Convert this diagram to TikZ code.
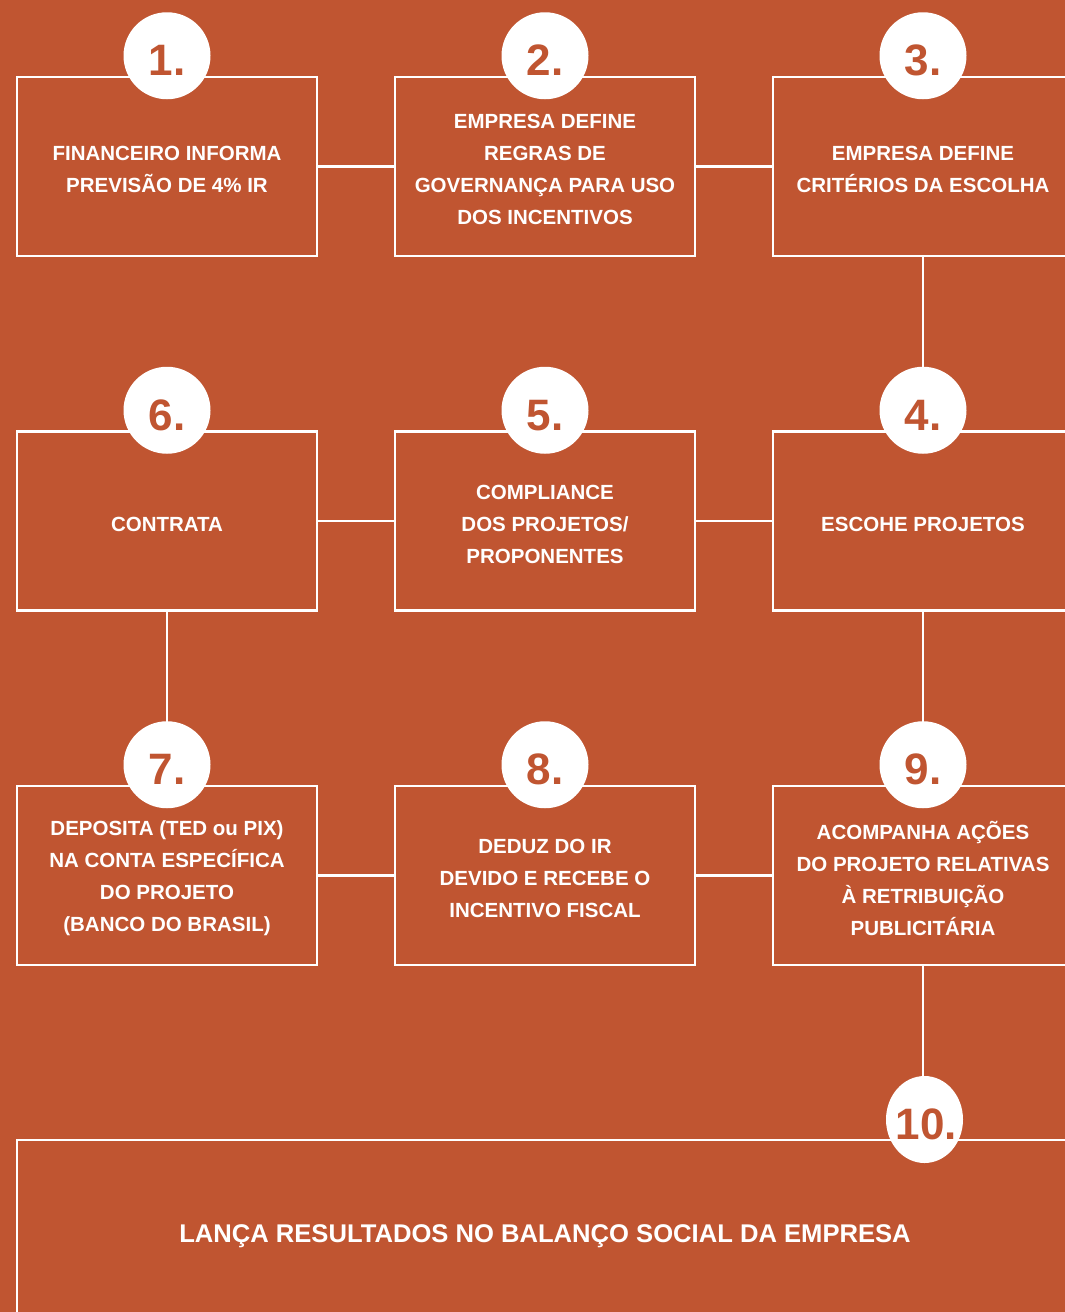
\documentclass[tikz,border=0pt]{standalone}
\usepackage{fontspec}
\setmainfont{Liberation Sans}
\usetikzlibrary{shapes.geometric}
\definecolor{bg}{RGB}{192,85,49}
\begin{document}
\begin{tikzpicture}[x=1pt,y=-1pt,
  stepbox/.style={draw=white, line width=2.5pt, fill=bg, minimum width=300pt, minimum height=179pt, inner sep=0pt},
  txt/.style={text=white, align=center, font=\fontsize{20.5}{32}\selectfont\bfseries, inner sep=0pt},
  num/.style={circle, fill=white, minimum size=87pt, inner sep=0pt, text=bg, text height=39.5pt, text depth=0pt, font=\fontsize{44}{44}\selectfont\bfseries},
  link/.style={draw=white, line width=2.5pt}]
\useasboundingbox (0,0) rectangle (1065,1312);
\clip (0,0) rectangle (1065,1312);
\fill[bg] (0,0) rectangle (1065,1312);
% boxes
\node[stepbox] (b1) at (167,166.5) {};
\node[stepbox] (b2) at (545,166.5) {};
\node[stepbox] (b3) at (923,166.5) {};
\node[stepbox] (b6) at (167,521) {};
\node[stepbox] (b5) at (545,521) {};
\node[stepbox] (b4) at (923,521) {};
\node[stepbox] (b7) at (167,875.5) {};
\node[stepbox] (b8) at (545,875.5) {};
\node[stepbox] (b9) at (923,875.5) {};
\node[stepbox, minimum width=1056pt, minimum height=180pt] (b10) at (545,1230) {};
% connectors
\draw[link] (b1.east) -- (b2.west);
\draw[link] (b2.east) -- (b3.west);
\draw[link] (b3.south) -- (b4.north);
\draw[link] (b4.west) -- (b5.east);
\draw[link] (b5.west) -- (b6.east);
\draw[link] (b6.south) -- (b7.north);
\draw[link] (b7.east) -- (b8.west);
\draw[link] (b8.east) -- (b9.west);
\draw[link] (b4.south) -- (b9.north);
\draw[link] (b9.south) -- ([yshift=20pt]b9.south |- b10.north);
% numbers
\node[num] (n1) at ([yshift=20pt]b1.north) {1.};
\node[num] (n2) at ([yshift=20pt]b2.north) {2.};
\node[num] (n3) at ([yshift=20pt]b3.north) {3.};
\node[num] (n4) at ([yshift=20pt]b4.north) {4.};
\node[num] (n5) at ([yshift=20pt]b5.north) {5.};
\node[num] (n6) at ([yshift=20pt]b6.north) {6.};
\node[num] (n7) at ([yshift=20pt]b7.north) {7.};
\node[num] (n8) at ([yshift=20pt]b8.north) {8.};
\node[num] (n9) at ([yshift=20pt]b9.north) {9.};
\node[ellipse, fill=white, minimum width=77pt, minimum height=87pt, inner sep=0pt] (e10) at (924.5,1119.5) {};
\node[inner sep=0pt, text=bg, text height=39.5pt, text depth=0pt, font=\fontsize{44}{44}\selectfont\bfseries] (n10) at ([xshift=2pt]e10.center) {10.};
% texts
\node[txt] (t1) at ([yshift=-3pt]b1.center) {FINANCEIRO INFORMA\\PREVISÃO DE 4\% IR};
\node[txt] (t2) at ([yshift=-3pt]b2.center) {EMPRESA DEFINE\\REGRAS DE\\GOVERNANÇA PARA USO\\DOS INCENTIVOS};
\node[txt] (t3) at ([yshift=-3pt]b3.center) {EMPRESA DEFINE\\CRITÉRIOS DA ESCOLHA};
\node[txt] (t4) at ([yshift=-3pt]b4.center) {ESCOHE PROJETOS};
\node[txt] (t5) at ([yshift=-3pt]b5.center) {COMPLIANCE\\DOS PROJETOS/\\PROPONENTES};
\node[txt] (t6) at ([yshift=-3pt]b6.center) {CONTRATA};
\node[txt] (t7) at ([yshift=-3pt]b7.center) {DEPOSITA (TED ou PIX)\\NA CONTA ESPECÍFICA\\DO PROJETO\\(BANCO DO BRASIL)};
\node[txt] (t8) at ([yshift=-3pt]b8.center) {DEDUZ DO IR\\DEVIDO E RECEBE O\\INCENTIVO FISCAL};
\node[txt] (t9) at ([yshift=-3pt]b9.center) {ACOMPANHA AÇÕES\\DO PROJETO RELATIVAS\\À RETRIBUIÇÃO\\PUBLICITÁRIA};
\node[txt, font=\fontsize{25.6}{30}\selectfont\bfseries] (t10) at ([yshift=-6pt]b10.center) {LANÇA RESULTADOS NO BALANÇO SOCIAL DA EMPRESA};
\end{tikzpicture}
\end{document}
